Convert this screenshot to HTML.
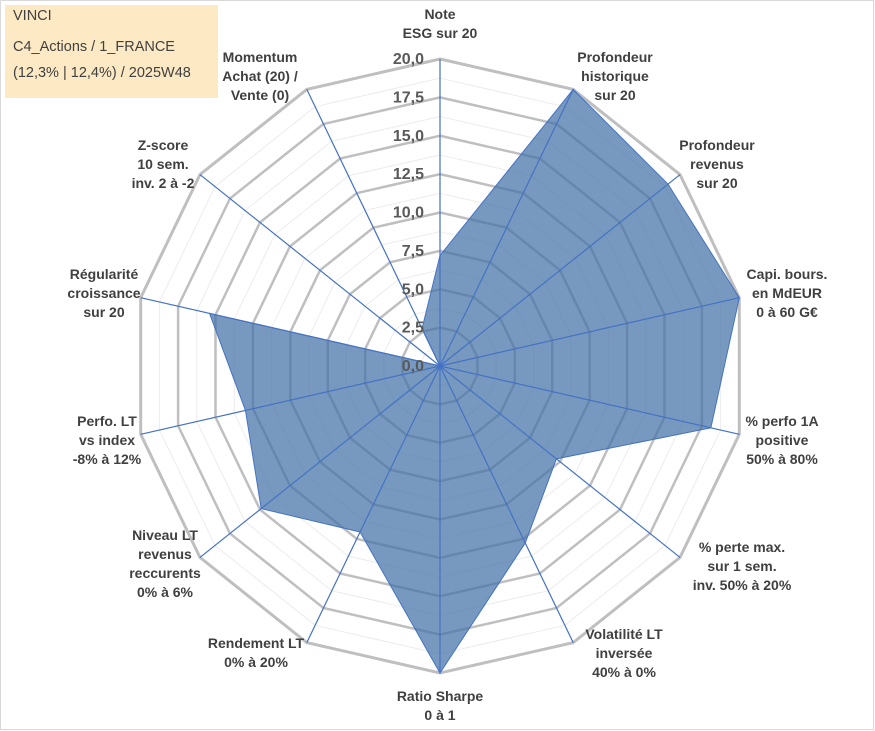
<!DOCTYPE html>
<html><head><meta charset="utf-8"><style>
body{margin:0;background:#fff;font-family:"Liberation Sans",Arial,sans-serif}
#wrap{position:relative;width:875px;height:731px;overflow:hidden}
svg text{font-family:"Liberation Sans",Arial,sans-serif;font-weight:bold;font-size:14px;fill:#404040}
</style></head><body>
<div id="wrap">
<svg id="chart" width="875" height="731">
<rect x="0.5" y="0.5" width="873" height="729" fill="#fff" stroke="#d9d9d9"/>
<g id="grid"></g><g id="area"></g><g id="spokes"></g><g id="ticks"></g><g id="labels"></g>
<rect x="5" y="5" width="213" height="93" fill="#fde9c4"/>
<text x="13" y="20" style="font-weight:normal;font-size:14.5px">VINCI</text>
<text x="13" y="51" style="font-weight:normal;font-size:14.5px">C4_Actions / 1_FRANCE</text>
<text x="13" y="77" style="font-weight:normal;font-size:14.5px">(12,3% | 12,4%) / 2025W48</text>
</svg></div>
<script>
const categories=[["Note","ESG sur 20"],["Profondeur","historique","sur 20"],["Profondeur","revenus","sur 20"],["Capi. bours.","en MdEUR","0 à 60 G€"],["% perfo 1A","positive","50% à 80%"],["% perte max.","sur 1 sem.","inv. 50% à 20%"],["Volatilité LT","inversée","40% à 0%"],["Ratio Sharpe","0 à 1"],["Rendement LT","0% à 20%"],["Niveau LT","revenus","reccurents","0% à 6%"],["Perfo. LT","vs index","-8% à 12%"],["Régularité","croissance","sur 20"],["Z-score","10 sem.","inv. 2 à -2"],["Momentum","Achat (20) /","Vente (0)"]];
const values=[7.2,20,19,20,18.1,9.7,12.8,20,12,14.9,13,15.4,0,2.7];
const tickLabels=["0,0","2,5","5,0","7,5","10,0","12,5","15,0","17,5","20,0"];
const maxV=20;
// label layout (x, first baseline, anchor)
const labelLayout=[[440,19,'middle'],[615,62,'middle'],[717,150,'middle'],[787,279,'middle'],[782,426,'middle'],[742,552,'middle'],[624,639,'middle'],[440,701,'middle'],[256,648,'middle'],[165,540,'middle'],[107,426,'middle'],[104,279,'middle'],[163,150,'middle'],[260,62,'middle']];
const cx=440,cy=366,R=307,N=categories.length,NS="http://www.w3.org/2000/svg";
function rScale(v){return v/maxV*R;}
function pt(i,v){const a=i*2*Math.PI/N;return [cx+rScale(v)*Math.sin(a),cy-rScale(v)*Math.cos(a)];}
function mk(tag,attrs,parent){const e=document.createElementNS(NS,tag);for(const k in attrs)e.setAttribute(k,attrs[k]);parent.appendChild(e);return e;}
const grid=document.getElementById('grid');
for(let k=1;k<=16;k++){const v=k*1.25;const pts=categories.map((c,i)=>pt(i,v).join(',')).join(' ');
const el=mk('polygon',{points:pts,fill:'none',stroke:k%2?'#ececec':'#bfbfbf','stroke-width':k%2?1:(k==16?3:2.5)},grid);

}
const area=document.getElementById('area');
const poly=mk('polygon',{points:values.map((v,i)=>pt(i,v).join(',')).join(' '),fill:'rgba(68,114,166,0.72)',stroke:'#4472c4','stroke-width':1},area);


const sp=document.getElementById('spokes');
categories.forEach((c,i)=>{const p=pt(i,maxV);const l=mk('line',{x1:cx,y1:cy,x2:p[0],y2:p[1],stroke:'#4472c4','stroke-width':1.2},sp);

});
const tk=document.getElementById('ticks');
tickLabels.forEach((t,k)=>{const y=cy-rScale(k*2.5);const e=mk('text',{x:cx-16,y:y+5,'text-anchor':'end',style:'font-size:16px;fill:#595959'},tk);e.textContent=t;

});
const lb=document.getElementById('labels');
categories.forEach((lines,i)=>{const [x,top,anchor]=labelLayout[i];
const t=mk('text',{x:x,y:top,'text-anchor':anchor},lb);


lines.forEach((ln,j)=>{const ts=mk('tspan',{x:x,dy:j==0?0:19},t);ts.textContent=ln;});});
</script>
</body></html>
